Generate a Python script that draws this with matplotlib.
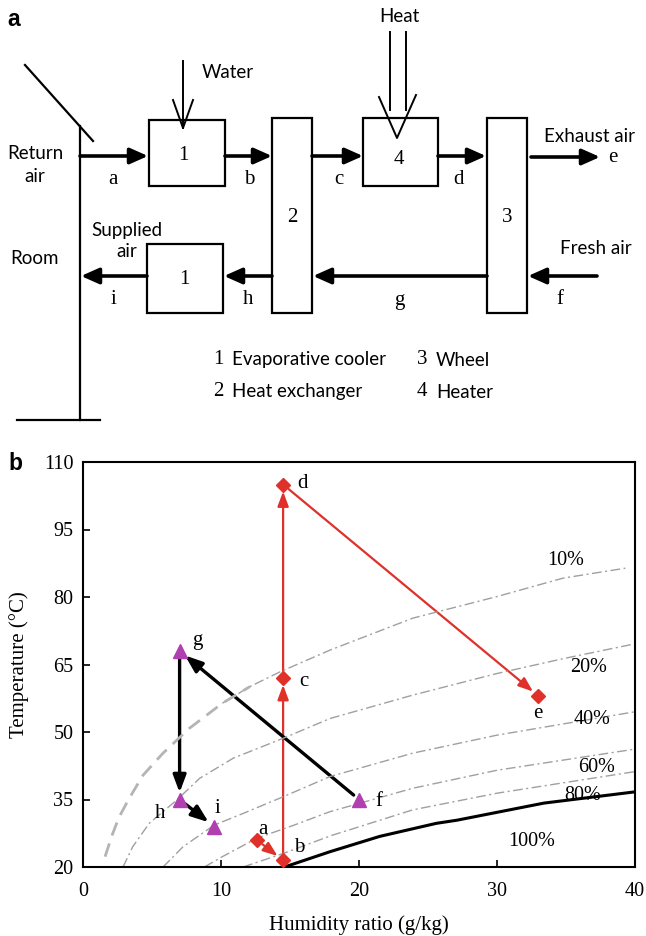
import matplotlib
matplotlib.use("Agg")
import matplotlib.pyplot as plt
from matplotlib.patches import Rectangle, FancyArrowPatch


# ---- panel b data: humidity ratio (g/kg) vs temperature (C)
hot_labels = ["a", "b", "c", "d", "e"]
hot_w = [12.6, 14.5, 14.5, 14.5, 33.0]
hot_t = [26.0, 21.5, 62.0, 105.0, 58.0]

cold_labels = ["f", "g", "h", "i"]
cold_w = [20.0, 7.0, 7.0, 9.5]
cold_t = [35.0, 68.0, 35.0, 29.0]

rh10_w = [1.6, 2.1, 2.6, 3.3, 4.35, 5.8, 7.7, 10.1, 12.1, 14.3, 17.9, 23.9, 30.0, 34.8, 39.3]
rh10_t = [22.3, 27.0, 31.0, 35.0, 40.4, 45.3, 50.8, 56.4, 60.1, 63.4, 68.2, 75.3, 80.1, 84.2, 86.4]
rh20_w = [2.9, 3.6, 4.8, 6.8, 8.45, 10.9, 14.5, 17.9, 23.9, 30.0, 34.8, 40.0]
rh20_t = [20.0, 24.5, 29.7, 34.9, 39.7, 44.2, 48.6, 53.0, 58.2, 63.0, 66.3, 69.6]
rh40_w = [5.8, 7.25, 9.5, 11.6, 14.5, 17.9, 23.9, 30.0, 40.0]
rh40_t = [20.0, 24.5, 29.3, 31.9, 35.6, 40.1, 45.3, 49.3, 54.5]
rh60_w = [8.8, 10.1, 12.6, 15.2, 17.9, 23.9, 30.0, 40.0]
rh60_t = [20.0, 22.3, 26.4, 29.2, 32.3, 37.5, 41.5, 46.2]
rh80_w = [11.6, 14.5, 18.0, 23.9, 30.0, 40.0]
rh80_t = [20.0, 23.0, 27.0, 32.7, 36.4, 41.2]
rh100_w = [14.6, 17.9, 21.5, 25.6, 27.1, 33.4, 40.0]
rh100_t = [20.0, 23.4, 26.8, 29.7, 30.4, 34.2, 36.7]

rh_labels = ["10%", "20%", "40%", "60%", "80%", "100%"]
rh_label_w = [35.0, 36.6, 36.9, 37.2, 36.2, 32.5]
rh_label_t = [88.2, 64.4, 52.7, 42.2, 36.0, 25.6]

RED = "#e0302a"
MAGENTA = "#b040b0"
SERIF = "Liberation Serif"
SANS = "Lato"

fig = plt.figure(figsize=(6.46, 9.36), dpi=100)

# ---- panel a: schematic, drawn in image pixel coordinates
ax0 = fig.add_axes([0, 496 / 936, 1, 440 / 936])
ax0.set_xlim(0, 646)
ax0.set_ylim(440, 0)
ax0.axis("off")

boxes = [(149, 120, 76, 66), (272, 118, 40, 195), (363, 118, 75, 68),
         (487, 118, 40, 195), (147, 244, 76, 69)]
for x0, y0, w, h in boxes:
    ax0.add_patch(Rectangle((x0, y0), w, h, fill=False, lw=1.6, ec="black"))

flows = [((80, 156), (148, 156)), ((225, 156), (272, 156)), ((312, 156), (363, 156)),
         ((438, 156), (486, 156)), ((531, 157), (600, 157)), ((597, 276), (528, 276)),
         ((487, 276), (313, 276)), ((272, 276), (224, 276)), ((147, 276), (81, 276))]
for start, end in flows:
    ax0.add_patch(FancyArrowPatch(start, end, arrowstyle="-|>,head_length=0.9,head_width=0.4",
                                  mutation_scale=12, lw=2.6, color="black",
                                  shrinkA=0, shrinkB=0))

# room wall and damper
ax0.plot([80, 80], [126, 420], color="black", lw=1.6)
ax0.plot([17, 100], [420, 420], color="black", lw=1.6)
ax0.plot([25, 93], [65, 141], color="black", lw=1.6)

# water input
ax0.plot([183, 183], [61, 128], color="black", lw=1.4)
ax0.plot([173, 183, 193], [100, 128, 100], color="black", lw=1.4)
# heat input
ax0.plot([390, 390], [32, 110], color="black", lw=1.4)
ax0.plot([406, 406], [32, 110], color="black", lw=1.4)
ax0.plot([379, 397, 416], [97, 138, 95], color="black", lw=1.4)

sans_kw = dict(family=SANS, fontsize=13.5, ha="center", va="center")
ax0.text(228, 73, "Water", **sans_kw)
ax0.text(399, 17, "Heat", **sans_kw)
ax0.text(35, 165, "Return\nair", linespacing=1.45, **sans_kw)
ax0.text(35, 258, "Room", **sans_kw)
ax0.text(127, 241, "Supplied\nair", linespacing=1.35, **sans_kw)
ax0.text(589, 137, "Exhaust air", **sans_kw)
ax0.text(596, 249, "Fresh air", **sans_kw)

serif_kw = dict(family=SERIF, fontsize=15, ha="center", va="center")
for s, x, y in [("a", 113, 180), ("b", 249, 180), ("c", 339, 180), ("d", 459, 180),
                ("e", 613, 157), ("f", 560, 300), ("g", 399, 300), ("h", 248, 300),
                ("i", 113, 300), ("1", 183, 156), ("2", 292, 217), ("4", 399, 160),
                ("3", 507, 217), ("1", 184, 279)]:
    ax0.text(x, y, s, **serif_kw)

legend_items = [("1", "Evaporative cooler", 218, 360), ("2", "Heat exchanger", 218, 392),
                ("3", "Wheel", 422, 360), ("4", "Heater", 422, 392)]
for num, name, x, y in legend_items:
    ax0.text(x, y, num, **serif_kw)
    ax0.text(x + 14, y, name, family=SANS, fontsize=13.5, ha="left", va="center")

fig.text(14 / 646, 1 - 20 / 936, "a", family="Liberation Sans", fontweight="bold",
         fontsize=16.5, ha="center", va="center")
fig.text(15 / 646, 1 - 463 / 936, "b", family="Liberation Sans", fontweight="bold",
         fontsize=16.5, ha="center", va="center")

# ---- panel b: psychrometric chart
ax = fig.add_axes([83 / 646, 69 / 936, 552 / 646, 405 / 936])

curve_kw = dict(color="#a0a0a0", lw=1.0, dashes=[7, 2.5, 1.5, 2.5])
ax.plot(rh10_w[7:], rh10_t[7:], **curve_kw)
for w, t in [(rh20_w, rh20_t), (rh40_w, rh40_t), (rh60_w, rh60_t), (rh80_w, rh80_t)]:
    ax.plot(w, t, **curve_kw)
ax.plot(rh10_w[:9], rh10_t[:9], color="#b4b4b4", lw=2.0, dashes=[5, 3])
ax.plot(rh100_w, rh100_t, color="black", lw=2.2)

for s, w, t in zip(rh_labels, rh_label_w, rh_label_t):
    ax.text(w, t, s, family=SERIF, fontsize=14.5, ha="center", va="center")


def flow_arrow(p0, p1, color, lw, scale):
    ax.add_patch(FancyArrowPatch(p0, p1, arrowstyle="-|>,head_length=0.8,head_width=0.3",
                                 mutation_scale=scale, lw=lw, color=color,
                                 shrinkA=5, shrinkB=5))


for k in range(len(hot_w) - 1):
    flow_arrow((hot_w[k], hot_t[k]), (hot_w[k + 1], hot_t[k + 1]), RED, 1.6, 11)
for k in range(len(cold_w) - 1):
    flow_arrow((cold_w[k], cold_t[k]), (cold_w[k + 1], cold_t[k + 1]), "black", 2.4, 13)

ax.plot(hot_w, hot_t, ls="none", marker="D", ms=7.5, color=RED, zorder=5)
ax.plot(cold_w, cold_t, ls="none", marker="^", ms=10, color=MAGENTA, zorder=5)

hot_offsets = [(6, 10), (16, 13), (21, -4), (19, 1), (-1, -17)]
cold_offsets = [(20, -2), (18, 11), (-20, -14), (3, 18)]
for s, w, t, off in zip(hot_labels + cold_labels, hot_w + cold_w, hot_t + cold_t,
                        hot_offsets + cold_offsets):
    ax.annotate(s, (w, t), xytext=off, textcoords="offset pixels", family=SERIF,
                fontsize=15, ha="center", va="center")

ax.set_xlim(0, 40)
ax.set_ylim(20, 110)
ax.set_xticks([0, 10, 20, 30, 40])
ax.set_yticks([20, 35, 50, 65, 80, 95, 110])
ax.tick_params(direction="in", length=5, width=1.2, labelsize=14.5)
ax.tick_params(axis="x", pad=11)
ax.tick_params(axis="y", pad=7)
for lab in ax.get_xticklabels() + ax.get_yticklabels():
    lab.set_family(SERIF)
for sp in ax.spines.values():
    sp.set_linewidth(1.5)
ax.set_xlabel("Humidity ratio (g/kg)", family=SERIF, fontsize=15, labelpad=10)
ax.set_ylabel("Temperature (\u00b0C)", family=SERIF, fontsize=15, labelpad=11)

fig.savefig("out.png", dpi=100)
